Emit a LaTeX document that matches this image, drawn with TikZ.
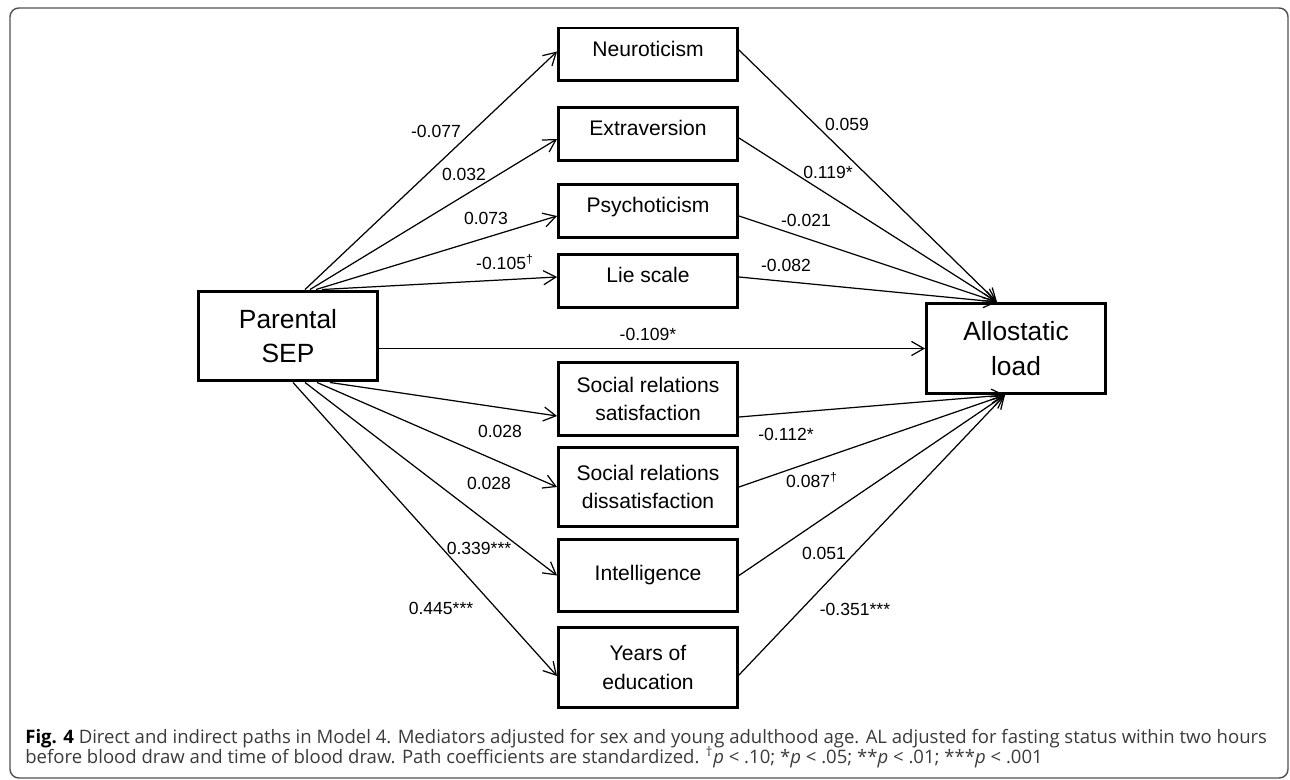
\documentclass[tikz,border=0pt]{standalone}
\usepackage{fontspec}
\setmainfont{Liberation Sans}
\newfontfamily\capfont{Open Sans}
\usetikzlibrary{arrows.meta}
\definecolor{capgray}{HTML}{3A3A3A}
\definecolor{framegray}{HTML}{505050}
\tikzset{
  var/.style={draw, line width=1.7pt, minimum width=3.58cm, align=center,
    font=\fontsize{12}{16.4}\selectfont},
  upper/.style={text height=0.8em, text depth=0.6em},
  bigbox/.style={draw, line width=1.7pt, minimum width=3.58cm, minimum height=1.8cm,
    align=center, font=\fontsize{15}{19.5}\selectfont},
  arr/.style={-{Straight Barb[length=7pt,width=8pt]}, line width=0.7pt},
  coef/.style={font=\fontsize{10}{12}\selectfont, inner sep=1pt}
}
\begin{document}
\begin{tikzpicture}[x=0.02cm, y=-0.02cm]
    \useasboundingbox (0,0) rectangle (1290,780);
    \draw[framegray, line width=0.8pt, rounded corners=5pt] (10,8) rectangle (1288,778);

    \node[bigbox] (psep) at (288,336) {Parental\\SEP};
    \node[bigbox] (al) at (1016,348.5) {Allostatic\\load};

    \node[var, upper, minimum height=1.06cm] (neuro) at (648,54.5) {Neuroticism};
    \node[var, upper, minimum height=1.06cm] (extra) at (648,134) {Extraversion};
    \node[var, upper, minimum height=1.06cm] (psych) at (648,211) {Psychoticism};
    \node[var, upper, minimum height=1.06cm] (lie) at (648,281) {Lie scale};
    \node[var, minimum height=1.46cm] (sat) at (648,399) {Social relations\\satisfaction};
    \node[var, minimum height=1.58cm] (dis) at (648,487) {Social relations\\dissatisfaction};
    \node[var, minimum height=1.44cm] (intel) at (648,575.5) {Intelligence};
    \node[var, minimum height=1.6cm] (years) at (648,667.5) {Years of\\education};

    \draw[arr] ([xshift=0.34cm]psep.north) -- ([yshift=0.06cm]neuro.west);
    \draw[arr] ([xshift=0.44cm]psep.north) -- ([yshift=-0.1cm]extra.west);
    \draw[arr] ([xshift=0.56cm]psep.north) -- ([yshift=-0.1cm]psych.west);
    \draw[arr] ([xshift=0.68cm]psep.north) -- ([yshift=0.08cm]lie.west);
    \draw[arr] (al.west -| psep.east) -- (al.west);
    \draw[arr] ([xshift=0.84cm]psep.south) -- ([yshift=-0.34cm]sat.west);
    \draw[arr] ([xshift=0.58cm]psep.south) -- (dis.west);
    \draw[arr] ([xshift=0.34cm]psep.south) -- (intel.west);
    \draw[arr] ([xshift=0.1cm]psep.south) -- ([yshift=-0.17cm]years.west);

    \draw[arr] ([yshift=0.09cm]neuro.east) -- ([xshift=-0.38cm]al.north);
    \draw[arr] ([yshift=-0.08cm]extra.east) -- ([xshift=-0.38cm]al.north);
    \draw[arr] ([yshift=-0.1cm]psych.east) -- ([xshift=-0.38cm]al.north);
    \draw[arr] ([yshift=0.08cm]lie.east) -- ([xshift=-0.38cm]al.north);
    \draw[arr] ([yshift=-0.36cm]sat.east) -- ([xshift=-0.22cm]al.south);
    \draw[arr] (dis.east) -- ([xshift=-0.22cm]al.south);
    \draw[arr] (intel.east) -- ([xshift=-0.22cm]al.south);
    \draw[arr] ([yshift=-0.15cm]years.east) -- ([xshift=-0.22cm]al.south);

    \node[coef] (c1) at (436,131) {-0.077};
    \node[coef] (c2) at (464,174) {0.032};
    \node[coef] (c3) at (486,218) {0.073};
    \node[coef] (c4) at (505,262) {-0.105\textsuperscript{†}};
    \node[coef] (c5) at (648,334) {-0.109*};
    \node[coef] (c6) at (500,431) {0.028};
    \node[coef] (c7) at (489,483) {0.028};
    \node[coef] (c8) at (479,548) {0.339***};
    \node[coef] (c9) at (441,608) {0.445***};
    \node[coef] (d1) at (847,124) {0.059};
    \node[coef] (d2) at (828,172) {0.119*};
    \node[coef] (d3) at (806,220) {-0.021};
    \node[coef] (d4) at (786,265) {-0.082};
    \node[coef] (d5) at (786,434) {-0.112*};
    \node[coef] (d6) at (812,480) {0.087\textsuperscript{†}};
    \node[coef] (d7) at (824,553) {0.051};
    \node[coef] (d8) at (855,609) {-0.351***};

    \node[anchor=base west, inner sep=0, text=capgray, font=\capfont\fontsize{10.55}{12}\selectfont] (cap1) at (25,743)
      {\textcolor{black}{\textbf{Fig. 4}} Direct and indirect paths in Model 4. Mediators adjusted for sex and young adulthood age. AL adjusted for fasting status within two hours};
    \node[anchor=base west, inner sep=0, text=capgray, font=\capfont\fontsize{10.55}{12}\selectfont] (cap2) at (25,763)
      {before blood draw and time of blood draw. Path coefficients are standardized. \textsuperscript{†}\textit{p} < .10; *\textit{p} < .05; **\textit{p} < .01; ***\textit{p} < .001};
\end{tikzpicture}
\end{document}
